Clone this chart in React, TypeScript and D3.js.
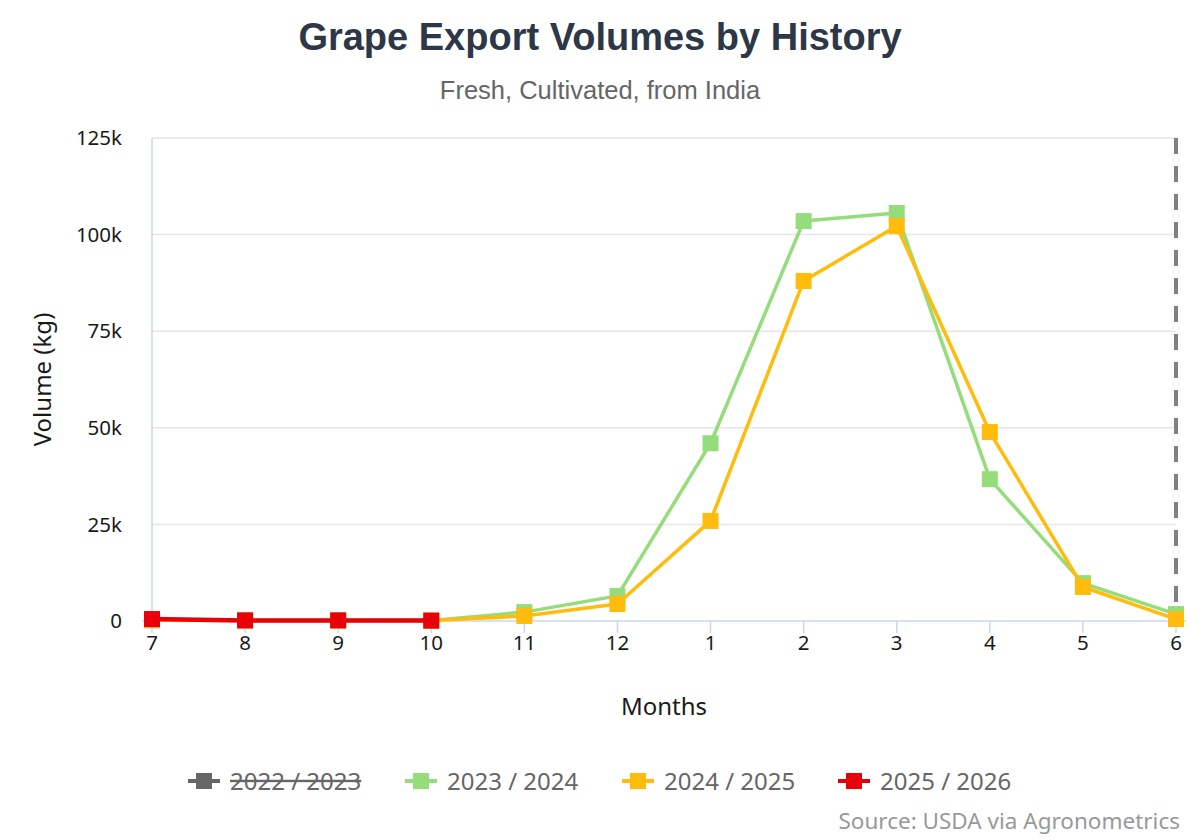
import { useEffect, useRef } from 'react';
import * as d3 from 'd3';

const MONTHS = ['7', '8', '9', '10', '11', '12', '1', '2', '3', '4', '5', '6'];
const Y_TICKS = [0, 25000, 50000, 75000, 100000, 125000];

// values in kg
const S2023 = [300, 200, 200, 100, 2300, 6500, 46000, 103500, 105600, 36700, 9800, 1800];
const S2024 = [200, 100, 100, 100, 1300, 4400, 25900, 88000, 102200, 48900, 8800, 500];
const S2025 = [500, 150, 150, 100];

const SERIES = [
  { name: '2023 / 2024', color: '#95dc7a', values: S2023 },
  { name: '2024 / 2025', color: '#ffbc0c', values: S2024 },
  { name: '2025 / 2026', color: '#e8000b', values: S2025 },
];

const LEGEND = [
  { name: '2022 / 2023', color: '#666666', hidden: true },
  { name: '2023 / 2024', color: '#95dc7a', hidden: false },
  { name: '2024 / 2025', color: '#ffbc0c', hidden: false },
  { name: '2025 / 2026', color: '#e8000b', hidden: false },
];

const W = 1200;
const H = 840;
const FONT = '"Noto Sans", "Open Sans", sans-serif';

export default function App() {
  const ref = useRef<SVGSVGElement>(null);

  useEffect(() => {
    document.body.style.margin = '0';
    const svg = d3.select(ref.current);
    svg.selectAll('*').remove();

    const left = 152, right = 1176, top = 138, bottom = 621;

    const x = d3.scalePoint<string>().domain(MONTHS).range([left, right]);
    const y = d3.scaleLinear().domain([0, 125000]).range([bottom, top]);

    // title
    svg.append('text')
      .attr('x', W / 2).attr('y', 50)
      .attr('text-anchor', 'middle')
      .attr('font-family', '"Liberation Sans", Arial, sans-serif')
      .attr('font-weight', 700).attr('font-size', 38)
      .attr('fill', '#2d3748')
      .text('Grape Export Volumes by History');

    svg.append('text')
      .attr('x', W / 2).attr('y', 99)
      .attr('text-anchor', 'middle')
      .attr('font-family', '"Liberation Sans", Arial, sans-serif')
      .attr('font-size', 25.5)
      .attr('fill', '#666666')
      .text('Fresh, Cultivated, from India');

    // grid
    svg.append('g').selectAll('line')
      .data(Y_TICKS.filter(d => d > 0))
      .join('line')
      .attr('x1', left).attr('x2', right)
      .attr('y1', d => y(d)).attr('y2', d => y(d))
      .attr('stroke', '#e6e6e6').attr('stroke-width', 1.5);

    // y axis line
    svg.append('line')
      .attr('x1', left).attr('x2', left)
      .attr('y1', top).attr('y2', bottom)
      .attr('stroke', '#ccd6eb').attr('stroke-width', 1.5);

    // y labels
    svg.append('g').selectAll('text')
      .data(Y_TICKS)
      .join('text')
      .attr('x', 122).attr('y', d => y(d))
      .attr('dy', '0.35em')
      .attr('text-anchor', 'end')
      .attr('font-family', FONT).attr('font-size', 20.5)
      .attr('fill', '#1a1a1a')
      .text(d => (d === 0 ? '0' : `${d / 1000}k`));

    svg.append('text')
      .attr('transform', `translate(51,${(top + bottom) / 2}) rotate(-90)`)
      .attr('text-anchor', 'middle')
      .attr('font-family', FONT).attr('font-size', 24)
      .attr('fill', '#1a1a1a')
      .text('Volume (kg)');

    // x axis
    svg.append('line')
      .attr('x1', left - 10).attr('x2', right + 10)
      .attr('y1', bottom).attr('y2', bottom)
      .attr('stroke', '#ccd6eb').attr('stroke-width', 1.5);

    svg.append('g').selectAll('line')
      .data(MONTHS)
      .join('line')
      .attr('x1', d => x(d)!).attr('x2', d => x(d)!)
      .attr('y1', bottom).attr('y2', bottom + 12)
      .attr('stroke', '#ccd6eb').attr('stroke-width', 1.5);

    svg.append('g').selectAll('text')
      .data(MONTHS)
      .join('text')
      .attr('x', d => x(d)!).attr('y', 650)
      .attr('text-anchor', 'middle')
      .attr('font-family', FONT).attr('font-size', 20.5)
      .attr('fill', '#1a1a1a')
      .text(d => d);

    svg.append('text')
      .attr('x', (left + right) / 2).attr('y', 715)
      .attr('text-anchor', 'middle')
      .attr('font-family', FONT).attr('font-size', 24)
      .attr('fill', '#1a1a1a')
      .text('Months');

    // dashed plot line at current month
    svg.append('line')
      .attr('x1', x('6')!).attr('x2', x('6')!)
      .attr('y1', top).attr('y2', bottom)
      .attr('stroke', '#808080').attr('stroke-width', 4)
      .attr('stroke-dasharray', '16,12');

    // series
    const line = d3.line<number>()
      .x((_, i) => x(MONTHS[i])!)
      .y(d => y(d));

    SERIES.forEach(s => {
      const g = svg.append('g');
      g.append('path')
        .datum(s.values)
        .attr('d', line)
        .attr('fill', 'none')
        .attr('stroke', s.color)
        .attr('stroke-width', s.name === '2025 / 2026' ? 4.5 : 3.5)
        .attr('stroke-linejoin', 'round');
      g.selectAll('rect')
        .data(s.values)
        .join('rect')
        .attr('x', (_, i) => x(MONTHS[i])! - 8)
        .attr('y', d => y(d) - 8)
        .attr('width', 16).attr('height', 16)
        .attr('fill', s.color);
    });

    // legend
    const legendX = [188, 405, 622, 838];
    const lg = svg.append('g');
    LEGEND.forEach((item, i) => {
      const gx = legendX[i];
      const gy = 781;
      lg.append('line')
        .attr('x1', gx).attr('x2', gx + 32)
        .attr('y1', gy).attr('y2', gy)
        .attr('stroke', item.color).attr('stroke-width', 4);
      lg.append('rect')
        .attr('x', gx + 16 - 8).attr('y', gy - 8)
        .attr('width', 16).attr('height', 16)
        .attr('fill', item.color);
      lg.append('text')
        .attr('x', gx + 42).attr('y', gy)
        .attr('dy', '0.36em')
        .attr('font-family', FONT).attr('font-size', 24)
        .attr('fill', '#666666')
        .attr('text-decoration', item.hidden ? 'line-through' : null)
        .text(item.name);
    });

    svg.append('text')
      .attr('x', 1180).attr('y', 829)
      .attr('text-anchor', 'end')
      .attr('font-family', FONT).attr('font-size', 22.5)
      .attr('fill', '#999999')
      .text('Source: USDA via Agronometrics');
  }, []);

  return <svg ref={ref} width={W} height={H} style={{ display: 'block', background: '#fff' }} />;
}
